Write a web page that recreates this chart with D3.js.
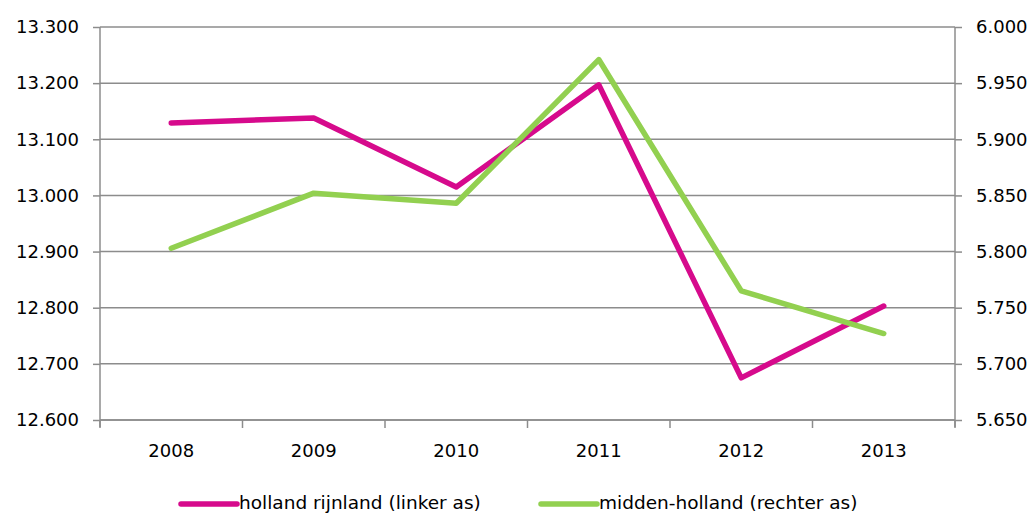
<!DOCTYPE html>
<html><head><meta charset="utf-8">
<script src="https://cdn.jsdelivr.net/npm/d3@7"></script>
<style>body{margin:0;background:#fff}svg{display:block}text{font-family:"DejaVu Sans",sans-serif;fill:#000}</style>
</head><body>
<svg id="c" width="1034" height="514"></svg>
<script>
const years = ["2008","2009","2010","2011","2012","2013"];
const hollandRijnland = [13129, 13138, 13015, 13197, 12675, 12803];
const middenHolland = [5803, 5852, 5843, 5971, 5765, 5727];
const leftTicks = [12600,12700,12800,12900,13000,13100,13200,13300];
const rightTicks = [5650,5700,5750,5800,5850,5900,5950,6000];
const seriesNames = ["holland rijnland (linker as)","midden-holland (rechter as)"];
const colors = ["#D60A8C","#92D050"];

const svg = d3.select("#c");
const L=100, R=955, T=27, B=420;
const x = d3.scaleBand().domain(years).range([L,R]);
const yL = d3.scaleLinear().domain([12600,13300]).range([B,T]);
const yR = d3.scaleLinear().domain([5650,6000]).range([B,T]);
const fmt = d => d3.format(",.3f")(d/1000).replace(/,/g,"");
const grid="#8c8c8c";

svg.append("g").selectAll("line").data(leftTicks).join("line")
  .attr("x1",L).attr("x2",R).attr("y1",d=>yL(d)).attr("y2",d=>yL(d))
  .attr("stroke",grid).attr("stroke-width",1.5);

const gl = svg.append("g").attr("transform",`translate(${L},0)`)
  .call(d3.axisLeft(yL).tickValues(leftTicks).tickSize(7).tickPadding(14).tickFormat(fmt));
const gr = svg.append("g").attr("transform",`translate(${R},0)`)
  .call(d3.axisRight(yR).tickValues(rightTicks).tickSize(7).tickPadding(14).tickFormat(fmt));
const gx = svg.append("g").attr("transform",`translate(0,${B})`)
  .call(d3.axisBottom(x).tickSize(0).tickPadding(24));
svg.append("g").selectAll("line").data(years.concat(["end"])).join("line")
  .attr("x1",(d,i)=>L+i*x.bandwidth()).attr("x2",(d,i)=>L+i*x.bandwidth())
  .attr("y1",B).attr("y2",B+8).attr("stroke",grid).attr("stroke-width",1.5);
[gl,gr,gx].forEach(g=>{
  g.selectAll("path,line").attr("stroke",grid).attr("stroke-width",1.5);
  g.selectAll("text").attr("font-size",18);
  g.select(".domain").attr("d", g===gx? `M${L},0H${R}` : `M0,${T}V${B+7}`);
});

const cx = d => x(d)+x.bandwidth()/2;
const lineL = d3.line().x((d,i)=>cx(years[i])).y(d=>yL(d));
const lineR = d3.line().x((d,i)=>cx(years[i])).y(d=>yR(d));
svg.append("path").attr("d",lineL(hollandRijnland)).attr("fill","none")
  .attr("stroke",colors[0]).attr("stroke-width",5.5).attr("stroke-linejoin","round").attr("stroke-linecap","round");
svg.append("path").attr("d",lineR(middenHolland)).attr("fill","none")
  .attr("stroke",colors[1]).attr("stroke-width",5.5).attr("stroke-linejoin","round").attr("stroke-linecap","round");

const lg = svg.append("g");
const lx=[181,541];
seriesNames.forEach((n,i)=>{
  lg.append("line").attr("x1",lx[i]).attr("x2",lx[i]+56).attr("y1",504).attr("y2",504)
    .attr("stroke",colors[i]).attr("stroke-width",5.5).attr("stroke-linecap","round");
  lg.append("text").attr("x",lx[i]+58).attr("y",509).attr("font-size",18.5).text(n);
});
</script>
</body></html>
